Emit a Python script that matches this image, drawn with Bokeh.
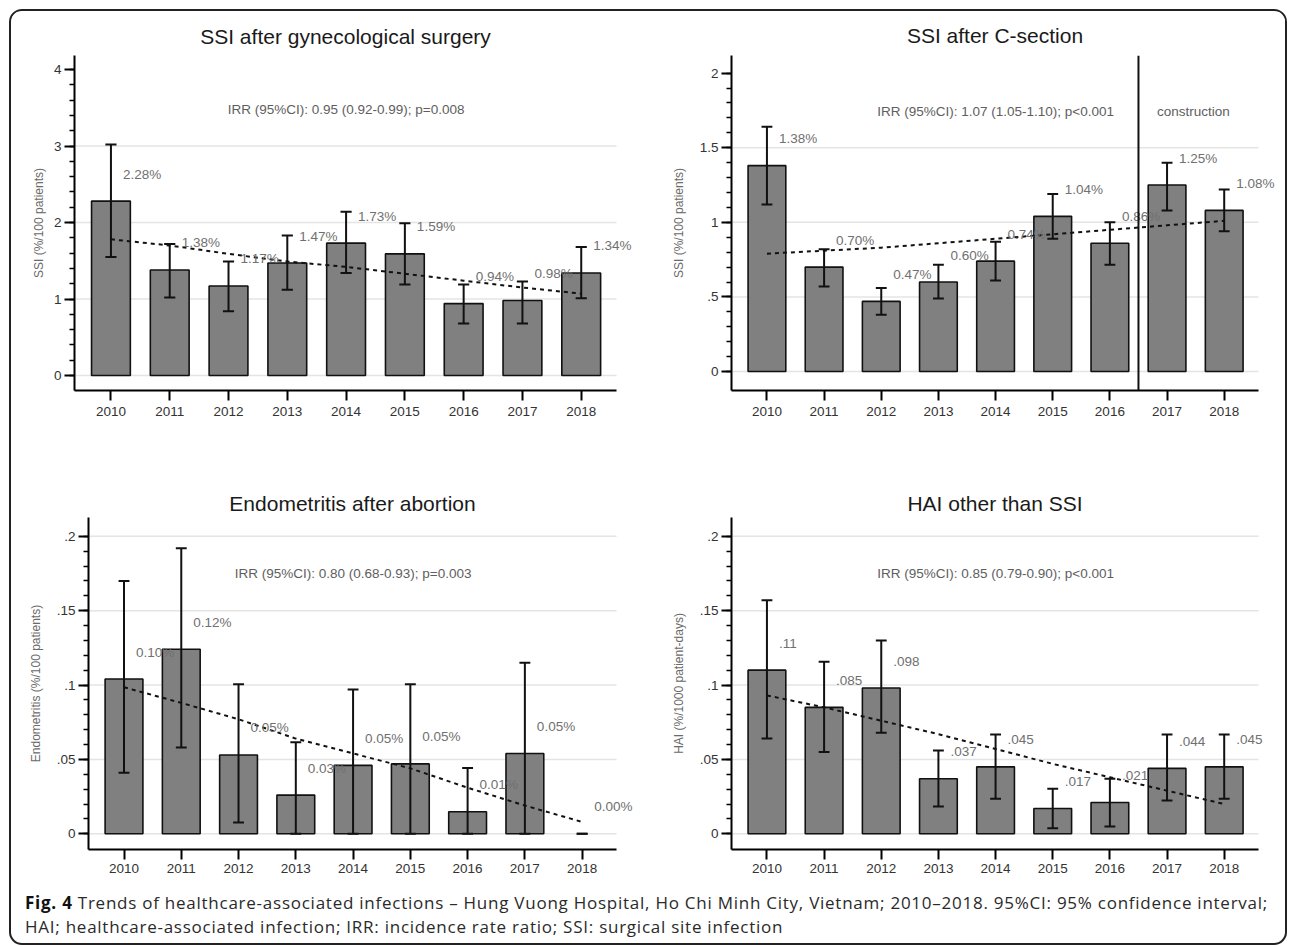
from bokeh.plotting import figure
from bokeh.models import Range1d, FixedTicker, CustomJSTickFormatter, Span, Label, Div
from bokeh.layouts import row, column
from bokeh.embed import file_html
from bokeh.resources import INLINE

# ---------------- data ----------------
years = [2010, 2011, 2012, 2013, 2014, 2015, 2016, 2017, 2018]

gyn_rate = [2.28, 1.38, 1.17, 1.47, 1.73, 1.59, 0.94, 0.98, 1.34]
gyn_lo = [1.55, 1.02, 0.84, 1.12, 1.34, 1.19, 0.68, 0.68, 1.01]
gyn_hi = [3.02, 1.72, 1.49, 1.83, 2.14, 1.99, 1.19, 1.23, 1.68]
gyn_trend = [1.78, 1.70, 1.59, 1.49, 1.42, 1.33, 1.24, 1.15, 1.07]

cs_rate = [1.38, 0.70, 0.47, 0.60, 0.74, 1.04, 0.86, 1.25, 1.08]
cs_lo = [1.12, 0.57, 0.38, 0.49, 0.61, 0.89, 0.715, 1.08, 0.94]
cs_hi = [1.64, 0.82, 0.56, 0.715, 0.87, 1.19, 1.00, 1.40, 1.22]
cs_trend = [0.79, 0.81, 0.83, 0.86, 0.89, 0.92, 0.95, 0.98, 1.01]

en_rate = [0.104, 0.124, 0.053, 0.026, 0.046, 0.047, 0.0148, 0.054, 0.0]
en_lo = [0.041, 0.058, 0.0076, 0.0, 0.0, 0.0, 0.0, 0.0, 0.0]
en_hi = [0.170, 0.192, 0.1006, 0.0616, 0.097, 0.1005, 0.0443, 0.115, 0.0]
en_trend = [0.0985, 0.088, 0.077, 0.064, 0.054, 0.044, 0.031, 0.019, 0.008]

hai_rate = [0.11, 0.085, 0.098, 0.037, 0.045, 0.017, 0.021, 0.044, 0.045]
hai_lo = [0.064, 0.055, 0.068, 0.0184, 0.0235, 0.0038, 0.0049, 0.0224, 0.0235]
hai_hi = [0.157, 0.1156, 0.130, 0.056, 0.0667, 0.0302, 0.037, 0.0667, 0.0667]
hai_trend = [0.093, 0.085, 0.076, 0.067, 0.057, 0.047, 0.038, 0.029, 0.020]

titles = ["SSI after gynecological surgery", "SSI after C-section",
          "Endometritis after abortion", "HAI other than SSI"]
ylabels = ["SSI (%/100 patients)", "SSI (%/100 patients)",
           "Endometritis (%/100 patients)", "HAI (%/1000 patient-days)"]
irr_texts = ["IRR (95%CI): 0.95 (0.92-0.99); p=0.008",
             "IRR (95%CI): 1.07 (1.05-1.10); p<0.001",
             "IRR (95%CI): 0.80 (0.68-0.93); p=0.003",
             "IRR (95%CI): 0.85 (0.79-0.90); p<0.001"]
construction_text = "construction"
construction_year = 2016.5

caption_bold = "Fig. 4"
caption_line1 = ("Trends of healthcare-associated infections \u2013 Hung Vuong Hospital, Ho Chi Minh City, "
                 "Vietnam; 2010\u20132018. 95%CI: 95% confidence interval;")
caption_line2 = ("HAI; healthcare-associated infection; IRR: incidence rate ratio; SSI: surgical site infection")

FONT = "Liberation Sans"
TITLE_PX = 21
TICK_JS = "var s = tick.toString(); if (s.indexOf('0.') === 0) { s = s.substring(1); } return s;"
INK = "#111111"
X0, X1 = 2009.38, 2018.6      # visible x-axis extent

# Liberation Sans (Arial metrics) advance widths, per 1000 em, for centring titles
AW = {" ": 278, "S": 667, "I": 278, "a": 556, "f": 278, "t": 278, "e": 556, "r": 333,
      "g": 556, "y": 500, "n": 556, "c": 500, "o": 556, "l": 222, "i": 222, "s": 500,
      "u": 556, "C": 722, "-": 333, "E": 667, "d": 556, "m": 833, "b": 556, "h": 556,
      "H": 722, "A": 667}


def text_w(s, px):
    return sum(AW.get(ch, 556) for ch in s) / 1000.0 * px


def make_panel(title, ylabel, rate, lo, hi, trend, labels, irr, irr_y, yr,
               major, minor, grid, w, h, left, axis_w, top, bottom, tstand, lstand, xstand):
    # the frame runs to the figure's right edge so that value labels right of
    # the last bar are not clipped; the axis itself stops at X1 (axis_w pixels)
    frame_w = w - left - 2
    x_end = X0 + (X1 - X0) * frame_w / axis_w
    p = figure(width=w, height=h, x_range=Range1d(X0, x_end), y_range=Range1d(*yr),
               output_backend="svg", toolbar_location=None,
               min_border_left=left, min_border_right=2,
               min_border_top=top, min_border_bottom=bottom)
    p.outline_line_color = None
    p.background_fill_color = "white"
    p.border_fill_color = "white"

    p.title.text = title
    p.title.align = "left"
    p.title.offset = (axis_w - text_w(title, TITLE_PX)) / 2.0
    p.title.vertical_align = "bottom"
    p.title.standoff = tstand
    p.title.text_font = FONT
    p.title.text_font_size = f"{TITLE_PX}px"
    p.title.text_font_style = "normal"
    p.title.text_color = "#1a1a1a"

    # grid lines limited to the axis extent
    p.segment(x0=[X0] * len(grid), y0=grid, x1=[X1] * len(grid), y1=grid,
              line_color="#e4e4e4", line_width=1.5, level="underlay")

    # bars (zero-height bars are not drawn)
    bx = [x for x, v in zip(years, rate) if v > 0]
    bt = [v for v in rate if v > 0]
    p.vbar(x=bx, top=bt, bottom=0, width=0.66, fill_color="#808080",
           line_color=INK, line_width=1.6)

    # error bars with caps
    cap = 0.095
    p.segment(x0=years, y0=lo, x1=years, y1=hi, line_color=INK, line_width=2)
    p.segment(x0=[x - cap for x in years], y0=hi, x1=[x + cap for x in years], y1=hi,
              line_color=INK, line_width=2)
    p.segment(x0=[x - cap for x in years], y0=lo, x1=[x + cap for x in years], y1=lo,
              line_color=INK, line_width=2)

    # fitted trend
    p.line(years, trend, line_color=INK, line_width=2, line_dash="4 4")

    # value labels
    for x, v, t in zip(years, rate, labels):
        p.add_layout(Label(x=x, y=v, text=t, x_offset=12, y_offset=27,
                           text_align="left", text_baseline="middle",
                           text_font=FONT, text_font_size="13.5px",
                           text_color="#707070"))

    p.add_layout(Label(x=2014, y=irr_y, text=irr, text_align="center",
                       text_baseline="middle", text_font=FONT,
                       text_font_size="13.5px", text_color="#5e5e5e"))

    # axes
    xa = p.xaxis[0]
    xa.bounds = (X0, X1)
    xa.ticker = FixedTicker(ticks=years)
    xa.major_tick_out = 10
    xa.major_tick_in = 0
    xa.minor_tick_out = 0
    xa.minor_tick_in = 0
    xa.major_tick_line_width = 2
    xa.axis_line_width = 2
    xa.major_label_standoff = xstand
    xa.major_label_text_font = FONT
    xa.major_label_text_font_size = "13.5px"
    xa.major_label_text_color = "#333333"

    ya = p.yaxis[0]
    ya.ticker = FixedTicker(ticks=major, minor_ticks=minor)
    ya.formatter = CustomJSTickFormatter(code=TICK_JS)
    ya.major_tick_out = 10
    ya.major_tick_in = 0
    ya.minor_tick_out = 5
    ya.minor_tick_in = 0
    ya.major_tick_line_width = 2
    ya.minor_tick_line_width = 1.5
    ya.axis_line_width = 2
    ya.major_label_standoff = 3
    ya.major_label_text_font = FONT
    ya.major_label_text_font_size = "13.5px"
    ya.major_label_text_color = "#333333"
    ya.axis_label = ylabel
    ya.axis_label_text_font = FONT
    ya.axis_label_text_font_size = "12px"
    ya.axis_label_text_font_style = "normal"
    ya.axis_label_text_color = "#6a6a6a"
    ya.axis_label_standoff = lstand

    p.xgrid.grid_line_color = None
    p.ygrid.grid_line_color = None
    return p


pct = lambda arr: [f"{v:.2f}%" for v in arr]
short = lambda arr: [f"{v:.3g}".lstrip("0") for v in arr]

m1 = [0, 1, 2, 3, 4]
n1 = [round(0.2 * i, 2) for i in range(0, 21)]
p1 = make_panel(titles[0], ylabels[0], gyn_rate, gyn_lo, gyn_hi, gyn_trend, pct(gyn_rate),
                irr_texts[0], 3.477, (-0.196, 4.183), m1, n1, [0, 1, 2, 3],
                634, 429, 63, 542, 44, 50, 16, 5, 6)

m2 = [0, 0.5, 1, 1.5, 2]
n2 = [round(0.1 * i, 2) for i in range(0, 21)]
p2 = make_panel(titles[1], ylabels[1], cs_rate, cs_lo, cs_hi, cs_trend, pct(cs_rate),
                irr_texts[1], 1.743, (-0.127, 2.118), m2, n2, [0, 0.5, 1, 1.5],
                640, 429, 86, 527, 44, 50, 18, 11, 6)
p2.add_layout(Span(location=construction_year, dimension="height",
                   line_color=INK, line_width=2))
p2.add_layout(Label(x=2017.46, y=1.743, text=construction_text, text_align="center",
                    text_baseline="middle", text_font=FONT, text_font_size="13.5px",
                    text_color="#5e5e5e"))

m3 = [0, 0.05, 0.1, 0.15, 0.2]
n3 = [round(0.01 * i, 2) for i in range(0, 21)]
p3 = make_panel(titles[2], ylabels[2], en_rate, en_lo, en_hi, en_trend, pct(en_rate),
                irr_texts[2], 0.175, (-0.01055, 0.2126), m3, n3, m3,
                634, 440, 77, 528, 77, 31, 6, 11, 4)

p4 = make_panel(titles[3], ylabels[3], hai_rate, hai_lo, hai_hi, hai_trend, short(hai_rate),
                irr_texts[3], 0.175, (-0.01055, 0.2126), m3, n3, m3,
                640, 440, 86, 527, 77, 31, 6, 11, 4)

cap_html = (
    '<div style="padding:6px 0 0 9px;font-family:\'Open Sans\';font-size:17px;'
    'line-height:23.5px;letter-spacing:0.75px;color:#2a2a2a;white-space:nowrap;">'
    f'<b style="color:#111">{caption_bold}</b> {caption_line1}<br>{caption_line2}'
    '</div>'
)
caption = Div(text=cap_html, width=1274, height=63)

layout = column(row(p1, p2), row(p3, p4), caption, margin=(9, 0, 0, 9),
                width=1274, height=932, sizing_mode="fixed",
                styles={"border": "2px solid #222", "border-radius": "13px",
                        "overflow": "hidden", "background": "white",
                        "box-sizing": "content-box"})

open("out.html", "w").write(file_html(layout, INLINE))
